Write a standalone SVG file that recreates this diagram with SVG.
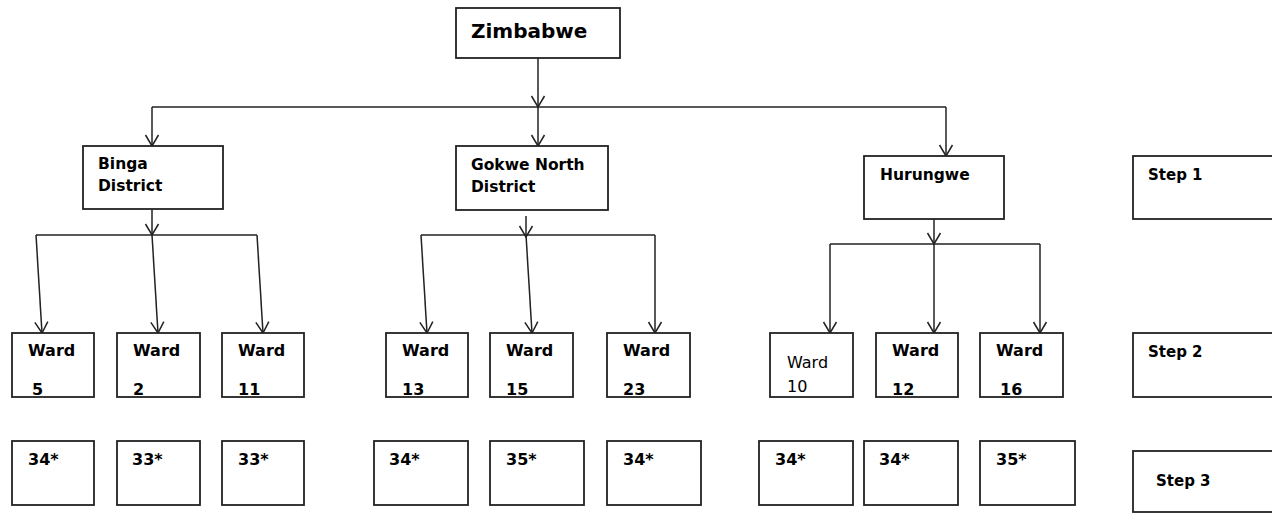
<svg xmlns="http://www.w3.org/2000/svg" width="1272" height="513" viewBox="0 0 1272 513">
<defs>
<style>
.box{fill:#fff;stroke:#222;stroke-width:1.8}
.ln{fill:none;stroke:#222;stroke-width:1.5}
.t{font-family:"DejaVu Sans","Liberation Sans",sans-serif;font-weight:bold;fill:#000}
.big{font-size:20px}
.md{font-size:15.5px}
.sm{font-size:16px}
.st{font-size:15px}
.reg{font-weight:normal}
</style>
<marker id="v" markerUnits="userSpaceOnUse" viewBox="-13 -9 15 18" markerWidth="15" markerHeight="18" refX="0" refY="0" orient="auto">
<path d="M-11,-6.5 L0,0 L-11,6.5" fill="none" stroke="#222" stroke-width="1.5"/>
</marker>
</defs>
<rect width="1272" height="513" fill="#fff"/>

<g id="connectors">
<line class="ln" x1="538" y1="58" x2="538" y2="107" marker-end="url(#v)"/>
<line class="ln" x1="152" y1="107" x2="946" y2="107"/>
<line class="ln" x1="538" y1="107" x2="538" y2="146" marker-end="url(#v)"/>
<line class="ln" x1="152" y1="107" x2="152" y2="146" marker-end="url(#v)"/>
<line class="ln" x1="946" y1="107" x2="946" y2="156" marker-end="url(#v)"/>

<line class="ln" x1="152" y1="209" x2="152" y2="235" marker-end="url(#v)"/>
<line class="ln" x1="36" y1="235" x2="257" y2="235"/>
<line class="ln" x1="36" y1="235" x2="42" y2="333" marker-end="url(#v)"/>
<line class="ln" x1="152" y1="235" x2="158" y2="333" marker-end="url(#v)"/>
<line class="ln" x1="257" y1="235" x2="263" y2="333" marker-end="url(#v)"/>

<line class="ln" x1="526" y1="216" x2="526" y2="237" marker-end="url(#v)"/>
<line class="ln" x1="421" y1="235" x2="655" y2="235"/>
<line class="ln" x1="421" y1="235" x2="427" y2="333" marker-end="url(#v)"/>
<line class="ln" x1="526" y1="235" x2="532" y2="333" marker-end="url(#v)"/>
<line class="ln" x1="655" y1="235" x2="655" y2="333" marker-end="url(#v)"/>

<line class="ln" x1="934" y1="219" x2="934" y2="244" marker-end="url(#v)"/>
<line class="ln" x1="830" y1="244" x2="1040" y2="244"/>
<line class="ln" x1="830" y1="244" x2="830" y2="333" marker-end="url(#v)"/>
<line class="ln" x1="934" y1="244" x2="934" y2="333" marker-end="url(#v)"/>
<line class="ln" x1="1040" y1="244" x2="1040" y2="333" marker-end="url(#v)"/>
</g>

<g id="zimbabwe"><rect class="box" x="456" y="8" width="164" height="50"/><text class="t big" x="471" y="38">Zimbabwe</text></g>

<g id="binga"><rect class="box" x="83" y="146" width="140" height="63"/><text class="t md" x="98" y="169">Binga</text><text class="t md" x="98" y="191">District</text></g>
<g id="gokwe"><rect class="box" x="456" y="146" width="152" height="64"/><text class="t md" x="471" y="170">Gokwe North</text><text class="t md" x="471" y="192">District</text></g>
<g id="hurungwe"><rect class="box" x="864" y="156" width="140" height="63"/><text class="t md" x="880" y="180">Hurungwe</text></g>
<g id="step1"><rect class="box" x="1133" y="156" width="150" height="63"/><text class="t st" x="1148" y="180">Step 1</text></g>

<g id="ward5"><rect class="box" x="12" y="333" width="82" height="64"/><text class="t sm" x="28" y="356">Ward</text><text class="t sm" x="32" y="395">5</text></g>
<g id="ward2"><rect class="box" x="117" y="333" width="83" height="64"/><text class="t sm" x="133" y="356">Ward</text><text class="t sm" x="133" y="395">2</text></g>
<g id="ward11"><rect class="box" x="222" y="333" width="82" height="64"/><text class="t sm" x="238" y="356">Ward</text><text class="t sm" x="238" y="395">11</text></g>
<g id="ward13"><rect class="box" x="386" y="333" width="82" height="64"/><text class="t sm" x="402" y="356">Ward</text><text class="t sm" x="402" y="395">13</text></g>
<g id="ward15"><rect class="box" x="490" y="333" width="83" height="64"/><text class="t sm" x="506" y="356">Ward</text><text class="t sm" x="506" y="395">15</text></g>
<g id="ward23"><rect class="box" x="607" y="333" width="83" height="64"/><text class="t sm" x="623" y="356">Ward</text><text class="t sm" x="623" y="395">23</text></g>
<g id="ward10"><rect class="box" x="770" y="333" width="83" height="64"/><text class="t sm reg" x="787" y="368">Ward</text><text class="t sm reg" x="787" y="392">10</text></g>
<g id="ward12"><rect class="box" x="876" y="333" width="82" height="64"/><text class="t sm" x="892" y="356">Ward</text><text class="t sm" x="892" y="395">12</text></g>
<g id="ward16"><rect class="box" x="980" y="333" width="83" height="64"/><text class="t sm" x="996" y="356">Ward</text><text class="t sm" x="1000" y="395">16</text></g>
<g id="step2"><rect class="box" x="1133" y="333" width="150" height="64"/><text class="t st" x="1148" y="357">Step 2</text></g>

<g id="n34a"><rect class="box" x="12" y="441" width="82" height="64"/><text class="t sm" x="28" y="465">34*</text></g>
<g id="n33a"><rect class="box" x="117" y="441" width="83" height="64"/><text class="t sm" x="132" y="465">33*</text></g>
<g id="n33b"><rect class="box" x="222" y="441" width="82" height="64"/><text class="t sm" x="238" y="465">33*</text></g>
<g id="n34b"><rect class="box" x="374" y="441" width="94" height="64"/><text class="t sm" x="389" y="465">34*</text></g>
<g id="n35a"><rect class="box" x="490" y="441" width="94" height="64"/><text class="t sm" x="506" y="465">35*</text></g>
<g id="n34c"><rect class="box" x="607" y="441" width="94" height="64"/><text class="t sm" x="623" y="465">34*</text></g>
<g id="n34d"><rect class="box" x="759" y="441" width="94" height="64"/><text class="t sm" x="775" y="465">34*</text></g>
<g id="n34e"><rect class="box" x="864" y="441" width="94" height="64"/><text class="t sm" x="879" y="465">34*</text></g>
<g id="n35b"><rect class="box" x="980" y="441" width="95" height="64"/><text class="t sm" x="996" y="465">35*</text></g>
<g id="step3"><rect class="box" x="1133" y="451" width="150" height="61"/><text class="t st" x="1156" y="486">Step 3</text></g>
</svg>
